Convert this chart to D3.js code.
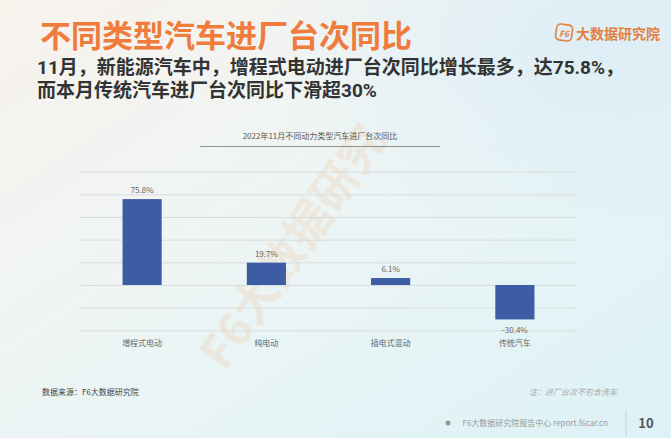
<!DOCTYPE html>
<html><head><meta charset="utf-8">
<script src="https://cdn.jsdelivr.net/npm/d3@7"></script>
<style>
html,body{margin:0;padding:0;}
body{width:671px;height:438px;overflow:hidden;position:relative;font-family:"Noto Sans CJK SC","Noto Sans",sans-serif;}
#sub{position:absolute;left:37px;top:56px;font-size:19px;line-height:23px;font-weight:bold;color:#333;white-space:nowrap;font-family:Roboto,"Noto Sans CJK SC",sans-serif;}
svg{position:absolute;left:0;top:0;}
</style></head><body>
<svg id="c" width="671" height="438"></svg>
<div id="sub"></div>
<script>
const categories = ["增程式电动", "纯电动", "插电式混动", "传统汽车"];
const values = [75.8, 19.7, 6.1, -30.4];
const yTicks = [-40, -20, 0, 20, 40, 60, 80, 100];
const title = "不同类型汽车进厂台次同比";
const subtitle = ["11月，新能源汽车中，增程式电动进厂台次同比增长最多，达75.8%，", "而本月传统汽车进厂台次同比下滑超30%"];
const chartTitle = "2022年11月不同动力类型汽车进厂台次同比";

const svg = d3.select("#c");
const defs = svg.append("defs");
const g1 = defs.append("linearGradient").attr("id","bg").attr("x1","0").attr("y1","0").attr("x2","1").attr("y2","1");
g1.append("stop").attr("offset","0").attr("stop-color","#f8f2ec");
g1.append("stop").attr("offset","0.4").attr("stop-color","#eff5f4");
g1.append("stop").attr("offset","1").attr("stop-color","#dcf2f7");
svg.append("rect").attr("width",671).attr("height",438).attr("fill","url(#bg)");
const g2 = defs.append("radialGradient").attr("id","bl").attr("cx","0.9").attr("cy","0.1").attr("r","0.5");
g2.append("stop").attr("offset","0").attr("stop-color","#dcedf6").attr("stop-opacity",0.9);
g2.append("stop").attr("offset","1").attr("stop-color","#dcedf6").attr("stop-opacity",0);
svg.append("rect").attr("width",671).attr("height",438).attr("fill","url(#bl)");

// faint watermark (decorative)
const wm = svg.append("g").attr("fill","#f2b27a").attr("opacity",0.18).attr("font-weight","bold").attr("font-size",46);
wm.append("text").attr("transform","translate(225,372) rotate(-55)").text("F6大数据研究");

// header
svg.append("text").attr("x",40).attr("y",46.5).attr("fill","#ef7b3c").attr("font-size",31).attr("font-weight","bold").text(title);
const sub = d3.select("#sub");
subtitle.forEach((s,i)=>{ if(i>0) sub.append("br"); sub.node().appendChild(document.createTextNode(s)); });

// logo
const logo = svg.append("g").attr("transform","translate(556,33)");
logo.append("rect").attr("x",0).attr("y",-8.5).attr("width",16).attr("height",16).attr("rx",4).attr("fill","none").attr("stroke","#e2803f").attr("stroke-width",1.6).attr("transform","rotate(8,8,0)");
logo.append("text").attr("x",8).attr("y",3.5).attr("text-anchor","middle").attr("font-size",8.5).attr("font-style","italic").attr("font-weight","bold").attr("fill","#e2803f").text("F6");
logo.append("text").attr("x",20).attr("y",5.5).attr("font-size",14).attr("font-weight","bold").attr("fill","#e2803f").text("大数据研究院");

// chart
const x = d3.scaleBand().domain(categories).range([80,577]);
const y = d3.scaleLinear().domain([-40,100]).range([330.3,171.7]);

svg.append("text").attr("x",320).attr("y",139).attr("text-anchor","middle").attr("font-size",8).attr("fill","#555").text(chartTitle);
svg.append("line").attr("x1",200).attr("x2",440).attr("y1",146.5).attr("y2",146.5).attr("stroke","#777").attr("stroke-width",0.8);

const yAxis = d3.axisLeft(y).tickValues(yTicks).tickSize(-(577-80)).tickFormat("");
const ga = svg.append("g").attr("transform","translate(80,0)").call(yAxis);
ga.select(".domain").remove();
ga.selectAll(".tick line").attr("stroke","#d3d7d9").attr("stroke-width",0.8);

const bw = x.bandwidth()*0.315;
svg.append("g").selectAll("rect").data(values).join("rect")
  .attr("x",(d,i)=>x(categories[i])+x.bandwidth()/2-bw/2)
  .attr("y",d=>y(Math.max(0,d)))
  .attr("width",bw)
  .attr("height",d=>Math.abs(y(d)-y(0)))
  .attr("fill","#3c5ca4");

svg.append("g").selectAll("text").data(values).join("text")
  .attr("x",(d,i)=>x(categories[i])+x.bandwidth()/2)
  .attr("y",d=>d>=0? y(d)-6 : y(d)+14)
  .attr("text-anchor","middle").attr("font-size",8).attr("fill","#666")
  .text(d=>d.toFixed(1)+"%");

const xAxis = d3.axisBottom(x).tickSize(0);
const gx = svg.append("g").attr("transform","translate(0,337)").call(xAxis);
gx.select(".domain").remove();
gx.selectAll("text").attr("font-size",8).attr("fill","#666").attr("font-family","Noto Sans CJK SC");

// footer
svg.append("text").attr("x",42).attr("y",395).attr("font-size",8).attr("fill","#444").text("数据来源：F6大数据研究院");
svg.append("text").attr("x",617).attr("y",395).attr("text-anchor","end").attr("font-size",8).attr("font-style","italic").attr("fill","#aaa").text("注：进厂台次不包含洗车");
svg.append("circle").attr("cx",448).attr("cy",423).attr("r",2.5).attr("fill","#999");
svg.append("text").attr("x",608).attr("y",426).attr("text-anchor","end").attr("font-size",8).attr("fill","#999").text("F6大数据研究院报告中心 report.f6car.cn");
svg.append("line").attr("x1",626).attr("x2",626).attr("y1",410).attr("y2",436).attr("stroke","#ccc").attr("stroke-width",1);
svg.append("text").attr("x",646).attr("y",428).attr("text-anchor","middle").attr("font-size",13).attr("font-weight","bold").attr("fill","#555").text("10");
</script></body></html>
